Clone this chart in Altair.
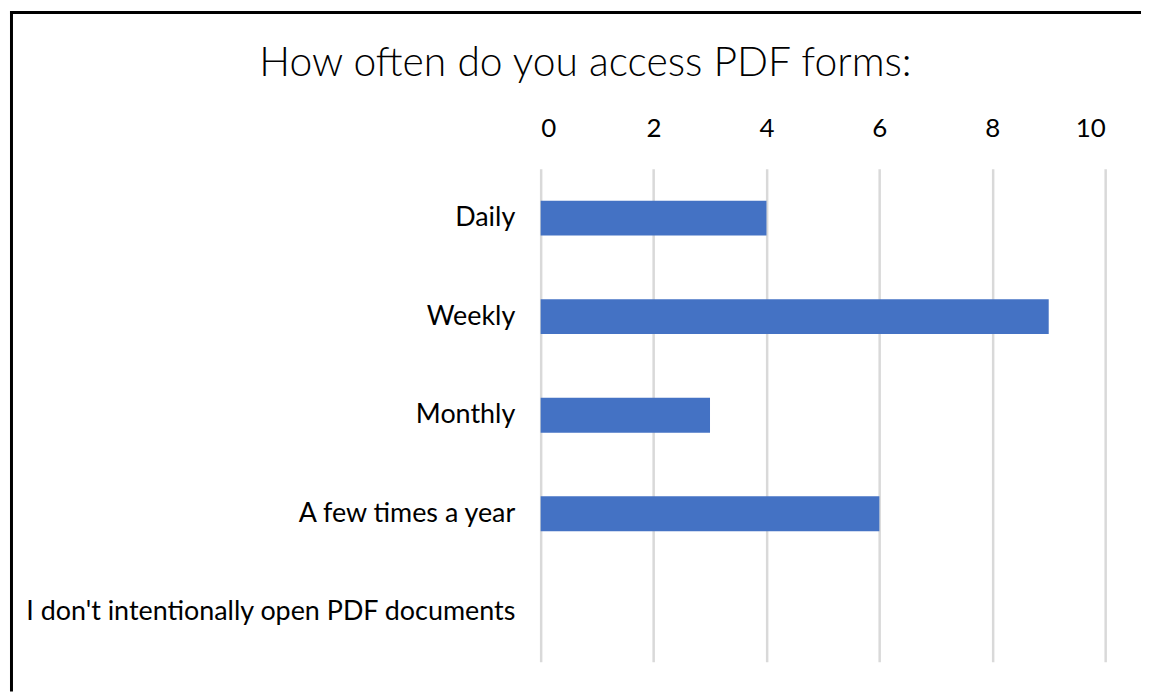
import altair as alt
import pandas as pd

categories = ["Daily", "Weekly", "Monthly", "A few times a year",
              "I don't intentionally open PDF documents"]
counts = [4, 9, 3, 6, 0]
x_ticks = [0, 2, 4, 6, 8, 10]

df = pd.DataFrame({"category": categories, "count": counts})

W, H = 567, 495
FONT = "Lato"

bars = alt.Chart(df).mark_bar(size=35, color="#4472C4").encode(
    x=alt.X("count:Q", scale=alt.Scale(domain=[0, 10], nice=False),
            axis=alt.Axis(orient="top", values=x_ticks, title=None, domain=False, ticks=False,
                          grid=True, gridColor="#D9D9D9", gridWidth=2.5,
                          labelFont=FONT, labelFontSize=26, labelColor="#000000",
                          labelPadding=27)),
    y=alt.Y("category:N", sort=categories,
            scale=alt.Scale(paddingInner=0, paddingOuter=0),
            axis=alt.Axis(title=None, domain=False, ticks=False,
                          labelFont=FONT, labelFontSize=27, labelColor="#000000",
                          labelPadding=26, labelLimit=700)),
)

frame_df = pd.DataFrame({"k": [0]})
top_line = alt.Chart(frame_df).mark_rule(color="#000000", strokeWidth=3).encode(
    x=alt.value(-533), x2=alt.value(603), y=alt.value(-157))
left_line = alt.Chart(frame_df).mark_rule(color="#000000", strokeWidth=3).encode(
    x=alt.value(-531.5), y=alt.value(-158.5), y2=alt.value(525))

chart = alt.layer(bars, top_line, left_line).properties(
    width=W, height=H,
    padding=0,
    title=alt.TitleParams("How often do you access PDF forms:", font=FONT, fontSize=41,
                          fontWeight=300, color="#000000", anchor="middle", frame="bounds",
                          offset=0, dy=76, dx=10),
).configure(background="#ffffff", view=alt.ViewConfig(stroke=None))

chart.save("out.html", embed_options={"renderer": "svg", "actions": False})
